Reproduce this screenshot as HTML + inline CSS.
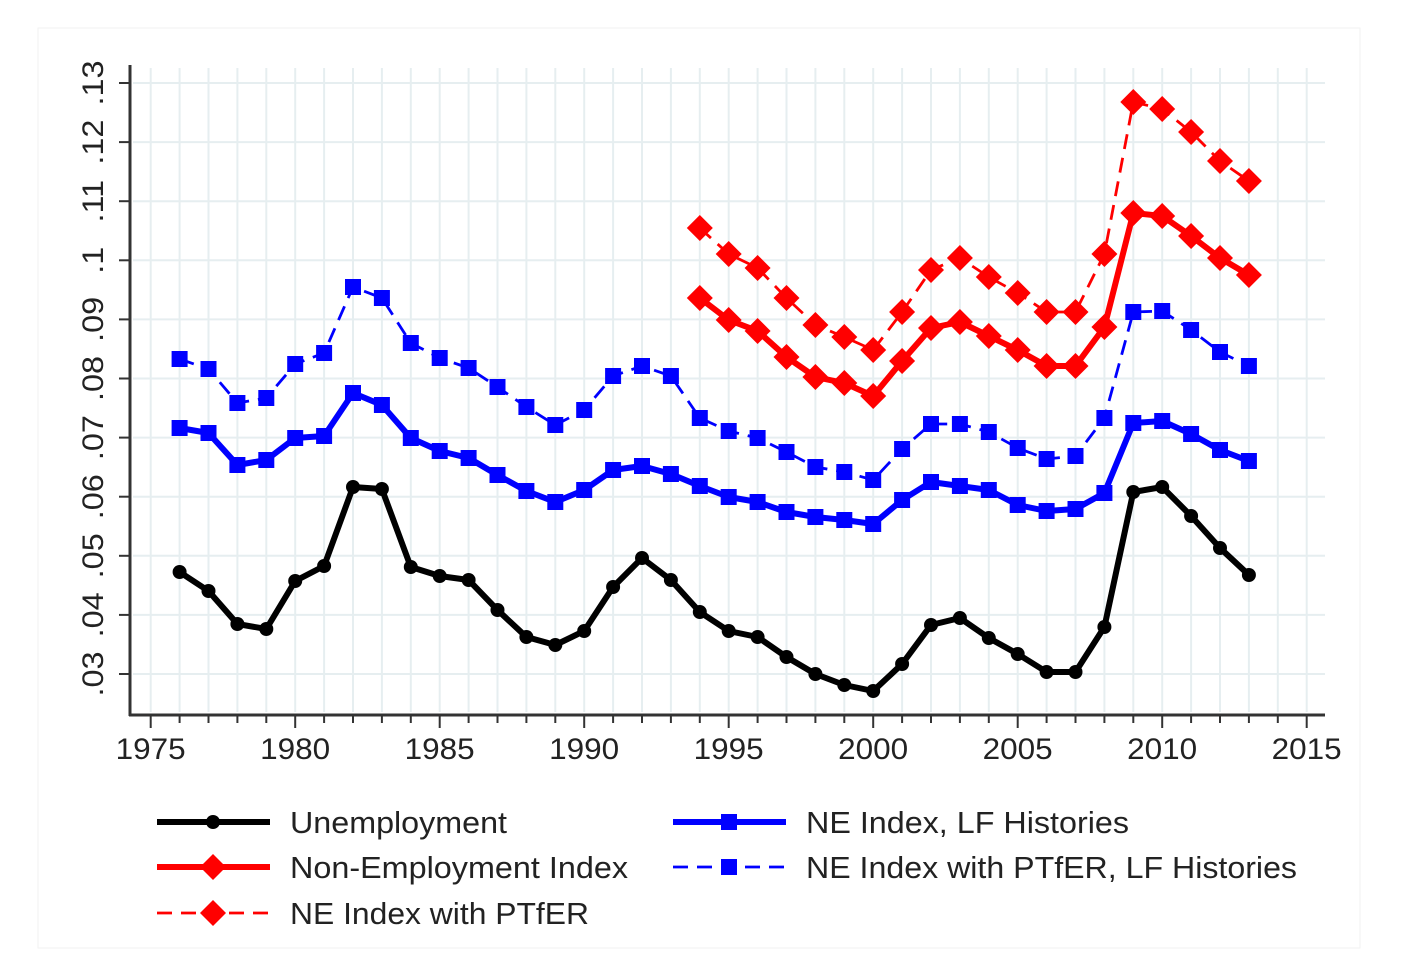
<!DOCTYPE html>
<html><head><meta charset="utf-8"><style>
body{margin:0;background:#fff;width:1406px;height:953px;overflow:hidden}
text{font-family:"Liberation Sans",sans-serif;fill:#222}
</style></head><body>
<svg id="s" width="1406" height="953" xmlns="http://www.w3.org/2000/svg">
<rect x="38" y="28" width="1322" height="920" fill="#fff" stroke="#f2f2f2"/>
<g id="grid"></g><g id="axes"></g><g id="series"></g><g id="legend"></g>
</svg>
<script>
const NS="http://www.w3.org/2000/svg";
function el(p,t,a,txt){const e=document.createElementNS(NS,t);for(const k in a)e.setAttribute(k,a[k]);if(txt!==undefined)e.textContent=txt;document.getElementById(p).appendChild(e);return e;}
const X=y=>150.7+(y-1975)*28.9;
const Y=v=>674-(v-0.03)*5910;
for(let yr=1975;yr<=2015;yr++){el("grid","line",{x1:X(yr),x2:X(yr),y1:68,y2:712,stroke:"#e6eef0","stroke-width":2});}
for(let i=0;i<=10;i++){const y=Y(0.03+i*0.01);el("grid","line",{x1:133,x2:1325,y1:y,y2:y,stroke:"#e6eef0","stroke-width":2});}
el("axes","line",{x1:130,x2:130,y1:65,y2:716,stroke:"#333","stroke-width":3});
el("axes","line",{x1:129,x2:1325,y1:715,y2:715,stroke:"#333","stroke-width":3});
const yl=[".03",".04",".05",".06",".07",".08",".09",".1",".11",".12",".13"];
yl.forEach((l,i)=>{const y=Y(0.03+i*0.01);el("axes","line",{x1:119,x2:130,y1:y,y2:y,stroke:"#333","stroke-width":2});
 el("axes","text",{x:0,y:0,transform:`translate(103,${y}) rotate(-90) scale(1.08,1)`,"text-anchor":"middle","font-size":30},l);});
for(let yr=1975;yr<=2015;yr++){const x=X(yr);const big=yr%5==0;el("axes","line",{x1:x,x2:x,y1:715,y2:big?728:723,stroke:"#333","stroke-width":2});
 if(big)el("axes","text",{x:x-35,y:759,"font-size":30,textLength:70,lengthAdjust:"spacingAndGlyphs"},yr);}
function series(start,ys,color,dash,marker,w){
 const pts=ys.map((y,i)=>[X(start+i),y]);
 el("series","polyline",{points:pts.map(p=>p.join(",")).join(" "),fill:"none",stroke:color,"stroke-width":w,"stroke-dasharray":dash||"none","stroke-linejoin":"round"});
 pts.forEach(p=>mk(p[0],p[1],color,marker,"series"));
}
function mk(x,y,c,m,g){
 if(m=="c")el(g,"circle",{cx:x,cy:y,r:7,fill:c});
 else if(m=="s")el(g,"rect",{x:x-8,y:y-8,width:16,height:16,fill:c});
 else el(g,"polygon",{points:`${x},${y-13} ${x+13},${y} ${x},${y+13} ${x-13},${y}`,fill:c});
}
const un=[572,591,624,629,581,566,487,489,567,576,580,610,637,645,631,587,558,580,612,631,637,657,674,685,691,664,625,618,638,654,672,672,627,492,487,516,548,575];
const lf=[428,433,465,460,438,436,393,405,438,451,458,475,491,502,490,470,466,474,486,497,502,512,517,520,524,500,482,486,490,505,511,509,493,423,421,434,450,461];
const lfd=[359,369,403,398,364,353,287,298,343,358,368,387,407,425,410,376,366,376,418,431,438,452,467,472,480,449,424,424,432,448,459,456,418,312,311,330,352,366];
const rs=[298,320,331,357,377,383,396,361,328,322,336,350,366,366,327,213,216,236,258,275];
const rd=[228,254,268,298,325,337,350,312,270,258,277,293,312,312,254,102,109,132,161,181];
series(1976,lfd,"#0000ff","15,9","s",2.8);
series(1976,lf,"#0000ff","","s",6);
series(1994,rd,"#ff0000","15,9","d",2.8);
series(1994,rs,"#ff0000","","d",6);
series(1976,un,"#000","","c",6);
function leg(x1,y,c,dash,m,w,txt,len){
 el("legend","line",{x1:x1,x2:x1+113,y1:y,y2:y,stroke:c,"stroke-width":w,"stroke-dasharray":dash||"none"});
 mk(x1+56,y,c,m,"legend");
 el("legend","text",{x:x1+133,y:y+11,"font-size":31,textLength:len,lengthAdjust:"spacingAndGlyphs"},txt);
}
leg(157,822,"#000","","c",6,"Unemployment",217);
leg(157,867,"#ff0000","","d",6,"Non-Employment Index",338);
leg(157,913,"#ff0000","15,9","d",2.8,"NE Index with PTfER",299);
leg(673,822,"#0000ff","","s",6,"NE Index, LF Histories",323);
leg(673,867,"#0000ff","15,9","s",2.8,"NE Index with PTfER, LF Histories",491);
</script>
</body></html>
